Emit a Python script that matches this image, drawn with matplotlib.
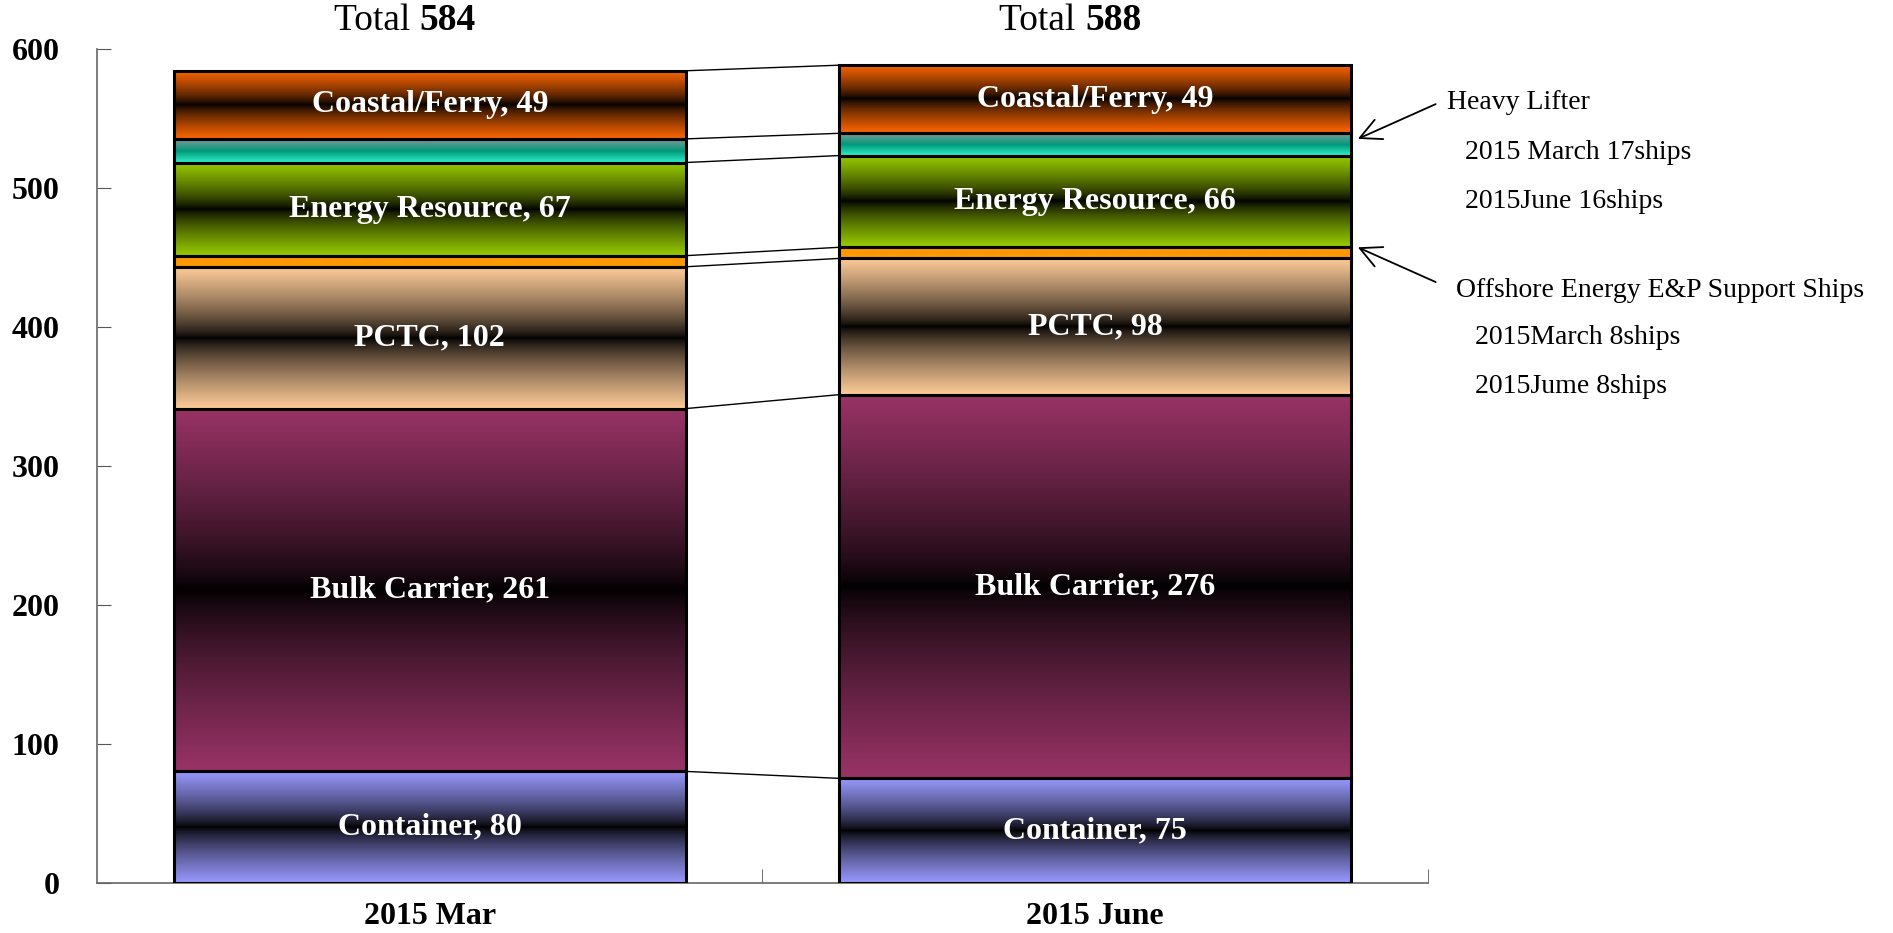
import numpy as np
import matplotlib
matplotlib.use('Agg')
import matplotlib.pyplot as plt
from matplotlib.colors import to_rgb

# data
periods = ["2015 Mar", "2015 June"]
segments = ["Container", "Bulk Carrier", "PCTC", "Offshore Energy E&P Support Ships",
            "Energy Resource", "Heavy Lifter", "Coastal/Ferry"]
mar_values = [80, 261, 102, 8, 67, 17, 49]
jun_values = [75, 276, 98, 8, 66, 16, 49]
labelled = [True, True, True, False, True, False, True]
totals = [584, 588]

base_colors = ["#9999FF", "#993366", "#FFCC99", "#FF9900", "#99CC00", None, "#FF6600"]

plt.rcParams['font.family'] = ['Liberation Serif', 'DejaVu Serif']

fig = plt.figure(figsize=(18.93, 9.33), dpi=100)
ax = fig.add_axes([0.0513, 0.054, 0.7029, 0.894])


def gradient(i):
    n = 256
    s = np.linspace(0, 1, n)
    if i == 5:  # heavy lifter: aqua bottom -> teal -> grey top
        bottom = np.array([0.2, 0.95, 0.8])
        mid = np.array([0.0, 0.6, 0.48])
        top = np.array([0.5, 0.6, 0.6])
        rows = np.where(s[:, None] < 0.5,
                        bottom + (mid - bottom) * (s[:, None] / 0.5),
                        mid + (top - mid) * ((s[:, None] - 0.5) / 0.5))
    elif i == 3:
        rows = np.tile(np.array(to_rgb(base_colors[i])), (n, 1))
    else:
        c = np.array(to_rgb(base_colors[i]))
        f = np.abs(2 * s - 1) ** 0.75
        rows = c[None, :] * f[:, None]
    return rows[:, None, :]


width = 0.77
xs = np.arange(len(periods))
all_values = [mar_values, jun_values]
tops = []
for k, vals in enumerate(all_values):
    bottom = 0
    cum = []
    for i, v in enumerate(vals):
        x0 = xs[k] - width / 2
        ax.imshow(gradient(i), extent=(x0, x0 + width, bottom, bottom + v),
                  origin='lower', aspect='auto', interpolation='bilinear', zorder=2)
        ax.bar(xs[k], v, width, bottom=bottom, color='none', edgecolor='black',
               linewidth=2.2, zorder=3)
        if labelled[i]:
            ax.text(xs[k], bottom + v / 2, f"{segments[i]}, {v}", color='white',
                    fontsize=23, fontweight='bold', ha='center', va='center', zorder=4)
        bottom += v
        cum.append(bottom)
    tops.append(cum)

# connector lines between the two stacks
for a, b in zip(tops[0], tops[1]):
    ax.plot([xs[0] + width / 2, xs[1] - width / 2], [a, b], color='black', lw=1, zorder=1)

# totals above each bar
for k, t in enumerate(totals):
    ax.text(xs[k] - 0.015, 620, "Total ", fontsize=27, ha='right', va='center')
    ax.text(xs[k] - 0.015, 620, str(t), fontsize=27, fontweight='bold', ha='left', va='center')

ax.set_xlim(-0.5, 1.5)
ax.set_ylim(0, 600)
ax.set_yticks(np.arange(0, 601, 100))
ax.set_xticks(xs)
ax.set_xticklabels(periods, fontsize=23, fontweight='bold')
ax.set_xticks([0.5, 1.5], minor=True)
for lab in ax.get_yticklabels():
    lab.set_fontweight('bold')
    lab.set_fontsize(23)
ax.tick_params(axis='y', direction='in', length=10, color='#555555', pad=27)
ax.tick_params(axis='x', which='major', length=0, pad=14)
ax.tick_params(axis='x', which='minor', direction='in', length=10, color='#555555')
for side in ['top', 'right']:
    ax.spines[side].set_visible(False)
for side in ['left', 'bottom']:
    ax.spines[side].set_color('#666666')
    ax.spines[side].set_linewidth(1.2)

# annotations on the right
arrow_kw = dict(arrowstyle='->', color='black', lw=1.3, mutation_scale=38,
                shrinkA=0, shrinkB=0)
ax.annotate("", xy=(1.395, 535), xytext=(1.512, 560), arrowprops=arrow_kw,
            annotation_clip=False)
ax.annotate("", xy=(1.395, 457), xytext=(1.512, 432), arrowprops=arrow_kw,
            annotation_clip=False)
note_kw = dict(fontsize=20, ha='left', va='center', clip_on=False)
ax.text(1.529, 561, "Heavy Lifter", **note_kw)
ax.text(1.556, 525, "2015 March 17ships", **note_kw)
ax.text(1.556, 490, "2015June 16ships", **note_kw)
ax.text(1.543, 426, "Offshore Energy E&P Support Ships", **note_kw)
ax.text(1.571, 392, "2015March 8ships", **note_kw)
ax.text(1.571, 357, "2015Jume 8ships", **note_kw)

fig.savefig("out.png", dpi=100)
